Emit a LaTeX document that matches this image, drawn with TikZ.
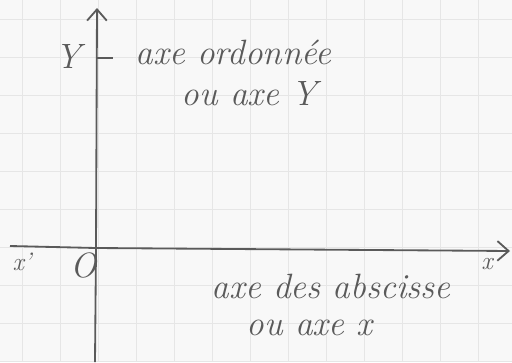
\documentclass[tikz,border=0pt]{standalone}
\usepackage{xcolor}
\usepackage{tikz}
\usetikzlibrary{positioning,arrows.meta,calc}

\definecolor{pen}{HTML}{5A5A5A}
\definecolor{paper}{HTML}{F8F8F8}
\definecolor{squares}{HTML}{E6E6E6}

\begin{document}
\begin{tikzpicture}[
  x=0.025cm, y=-0.025cm,
  axis/.style={draw=pen, line width=1.3pt},
  hand/.style={text=pen, font=\fontsize{25}{29}\selectfont\itshape, inner sep=1pt},
  small/.style={text=pen, font=\fontsize{18}{21}\selectfont\itshape, inner sep=1pt},
  tip/.style={-{Straight Barb[length=8pt, width=14pt, line width=1.3pt]}}
]
% paper with squares
\fill[paper] (0,0) rectangle (512,362);
\useasboundingbox (0,0) rectangle (512,362);
\foreach \gx in {22,60,...,480}
  \draw[squares, line width=0.5pt] (\gx,0) -- (\gx,362);
\foreach \gy in {19,57,...,362}
  \draw[squares, line width=0.5pt] (0,\gy) -- (512,\gy);
% axis ends
\coordinate (ytop)  at (97,8);
\coordinate (ybot)  at (95,362);
\coordinate (xleft) at (10,246);
\coordinate (xright) at (510,251);
\coordinate (orig)  at (96,248);
% axes
\draw[axis] (ybot) -- (orig);
\draw[axis, tip] (orig) -- (ytop);
\draw[axis] (xleft) -- (orig);
\draw[axis, tip] (orig) -- (xright);
% labels of the ordinate axis
\node[hand] (ylab) at (68,56) {Y};
\coordinate (ytick) at (97,58);
\node[hand, anchor=west] (yname) at (134,52) {axe ordonnée};
\draw[axis, line width=1pt] (ytick) -- ++(16,0) coordinate (ytickend);
\node[hand, anchor=west] (yalt) at (180,94) {ou axe Y};
% labels of the abscissa axis
\node[small] (xprime) at (22,262) {x'};
\node[hand] (olab) at (84,265) {O};
\node[small] (xlab) at (487,264) {x};
\node[hand, anchor=west] (xname) at (210,286) {axe des abscisse};
\node[hand, anchor=west] (xalt) at (245,328) {ou axe x};
\end{tikzpicture}
\end{document}
